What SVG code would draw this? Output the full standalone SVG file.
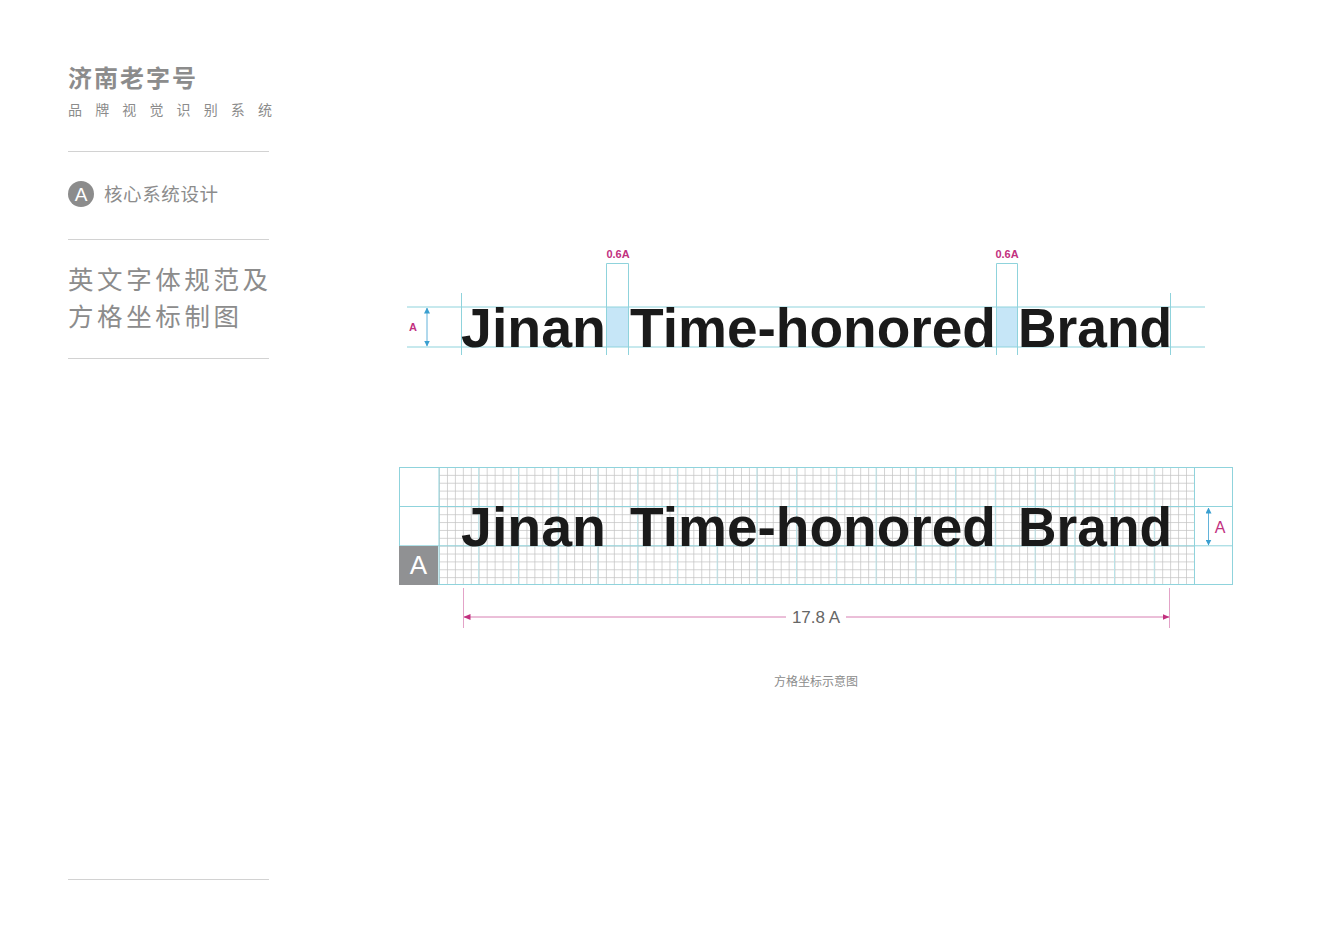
<svg xmlns="http://www.w3.org/2000/svg" width="1343" height="948" viewBox="0 0 1343 948">
<style>
.cn{font-family:"Noto Sans CJK SC","Noto Sans",sans-serif;fill:#8c8c8c}
.sep{stroke:#d2d2d2;stroke-width:1}
.cy{stroke:#8fd3dc;stroke-width:1;fill:none}
.brand{font-family:"Liberation Sans",Arial,sans-serif;font-weight:bold;font-size:56px;fill:#1a1a1a}
.mg{font-family:"Liberation Sans",Arial,sans-serif;fill:#c2307f}
</style>
<defs>
<pattern id="minor" x="439" y="467" width="7.947" height="7.867" patternUnits="userSpaceOnUse">
<path d="M0.4 0V7.867M0 0.4H7.947" stroke="#c2c2c2" stroke-width="0.8" fill="none"/>
</pattern>
<marker id="ab" viewBox="0 0 6 6" refX="5.5" refY="3" markerWidth="6" markerHeight="6" orient="auto-start-reverse" markerUnits="userSpaceOnUse"><path d="M0 0L6 3L0 6z" fill="#3a9fd0"/></marker>
<marker id="am" viewBox="0 0 7 6" refX="6.5" refY="3" markerWidth="7" markerHeight="6" orient="auto-start-reverse" markerUnits="userSpaceOnUse"><path d="M0 0L7 3L0 6z" fill="#c2307f"/></marker>
</defs>
<rect width="1343" height="948" fill="#fff"/>

<g id="sidebar">
<text class="cn" x="68" y="87" font-size="24" font-weight="bold" letter-spacing="2">济南老字号</text>
<text class="cn" x="68" y="115" font-size="14" textLength="204" lengthAdjust="spacing">品牌视觉识别系统</text>
<line class="sep" x1="68" y1="151.5" x2="269" y2="151.5"/>
<circle cx="81" cy="194" r="13" fill="#8c8c8c"/>
<text x="81" y="201" font-family="Liberation Sans,Arial,sans-serif" font-size="19" fill="#fff" text-anchor="middle">A</text>
<text class="cn" x="104" y="201" font-size="18.5" textLength="114" lengthAdjust="spacing">核心系统设计</text>
<line class="sep" x1="68" y1="239.5" x2="269" y2="239.5"/>
<text class="cn" x="68" y="289" font-size="25.5" textLength="200" lengthAdjust="spacing">英文字体规范及</text>
<text class="cn" x="68" y="326" font-size="25.5" textLength="171" lengthAdjust="spacing">方格坐标制图</text>
<line class="sep" x1="68" y1="358.5" x2="269" y2="358.5"/>
<line class="sep" x1="68" y1="879.5" x2="269" y2="879.5"/>
</g>

<g id="top-spec">
<rect x="606" y="307" width="23" height="40" fill="#c6e6f7"/>
<rect x="996" y="307" width="22" height="40" fill="#c6e6f7"/>
<line class="cy" x1="407" y1="307" x2="1205" y2="307"/>
<line class="cy" x1="407" y1="347" x2="1205" y2="347"/>
<line class="cy" x1="461.5" y1="293" x2="461.5" y2="355"/>
<line class="cy" x1="1170.5" y1="293" x2="1170.5" y2="355"/>
<path class="cy" d="M606.5 355V263.5H628.5V355"/>
<path class="cy" d="M996.5 355V263.5H1017.5V355"/>
<line x1="427" y1="308" x2="427" y2="346" stroke="#3a9fd0" stroke-width="0.8" marker-start="url(#ab)" marker-end="url(#ab)"/>
<text class="mg" x="413" y="331" font-size="11" font-weight="bold" text-anchor="middle">A</text>
<text class="mg" x="618" y="258" font-size="11" font-weight="bold" text-anchor="middle">0.6A</text>
<text class="mg" x="1007" y="258" font-size="11" font-weight="bold" text-anchor="middle">0.6A</text>
<text class="brand" x="461" y="347" textLength="145" lengthAdjust="spacingAndGlyphs">Jinan</text>
<text class="brand" x="630" y="347" textLength="366" lengthAdjust="spacingAndGlyphs">Time-honored</text>
<text class="brand" x="1018" y="347" textLength="154" lengthAdjust="spacingAndGlyphs">Brand</text>
</g>

<g id="grid-spec">
<rect x="439" y="467" width="755" height="118" fill="url(#minor)"/>
<path d="M478.7 467V585M518.5 467V585M558.2 467V585M597.9 467V585M637.7 467V585M677.4 467V585M717.2 467V585M756.9 467V585M796.6 467V585M836.4 467V585M876.1 467V585M915.8 467V585M955.6 467V585M995.3 467V585M1035.1 467V585M1074.8 467V585M1114.5 467V585M1154.3 467V585" stroke="#b8e3e8" stroke-width="1" fill="none"/>
<rect class="cy" x="399.5" y="467.5" width="833" height="117"/>
<line class="cy" x1="399" y1="506.5" x2="1233" y2="506.5"/>
<line class="cy" x1="399" y1="545.8" x2="1233" y2="545.8"/>
<line class="cy" x1="439" y1="467" x2="439" y2="585"/>
<line class="cy" x1="1194.5" y1="467" x2="1194.5" y2="585"/>
<rect x="399" y="546" width="39" height="39" fill="#909193"/>
<text x="418.5" y="574" font-family="Liberation Sans,Arial,sans-serif" font-size="26" fill="#fff" text-anchor="middle">A</text>
<line x1="1208.5" y1="508" x2="1208.5" y2="545" stroke="#3a9fd0" stroke-width="0.8" marker-start="url(#ab)" marker-end="url(#ab)"/>
<text class="mg" x="1220" y="533" font-size="16" text-anchor="middle">A</text>
<text class="brand" x="461" y="546" textLength="145" lengthAdjust="spacingAndGlyphs">Jinan</text>
<text class="brand" x="630" y="546" textLength="366" lengthAdjust="spacingAndGlyphs">Time-honored</text>
<text class="brand" x="1018" y="546" textLength="154" lengthAdjust="spacingAndGlyphs">Brand</text>
</g>

<g id="connectors">
<line x1="463.5" y1="588" x2="463.5" y2="628" stroke="#e3a3c8" stroke-width="1"/>
<line x1="1169.5" y1="588" x2="1169.5" y2="628" stroke="#e3a3c8" stroke-width="1"/>
<line x1="464" y1="617" x2="786" y2="617" stroke="#d77fb2" stroke-width="1" marker-start="url(#am)"/>
<line x1="846" y1="617" x2="1169" y2="617" stroke="#d77fb2" stroke-width="1" marker-end="url(#am)"/>
<text x="816" y="623" font-family="Liberation Sans,Arial,sans-serif" font-size="17" fill="#666" text-anchor="middle">17.8 A</text>
</g>

<text class="cn" x="816" y="686" font-size="12" text-anchor="middle">方格坐标示意图</text>
</svg>
